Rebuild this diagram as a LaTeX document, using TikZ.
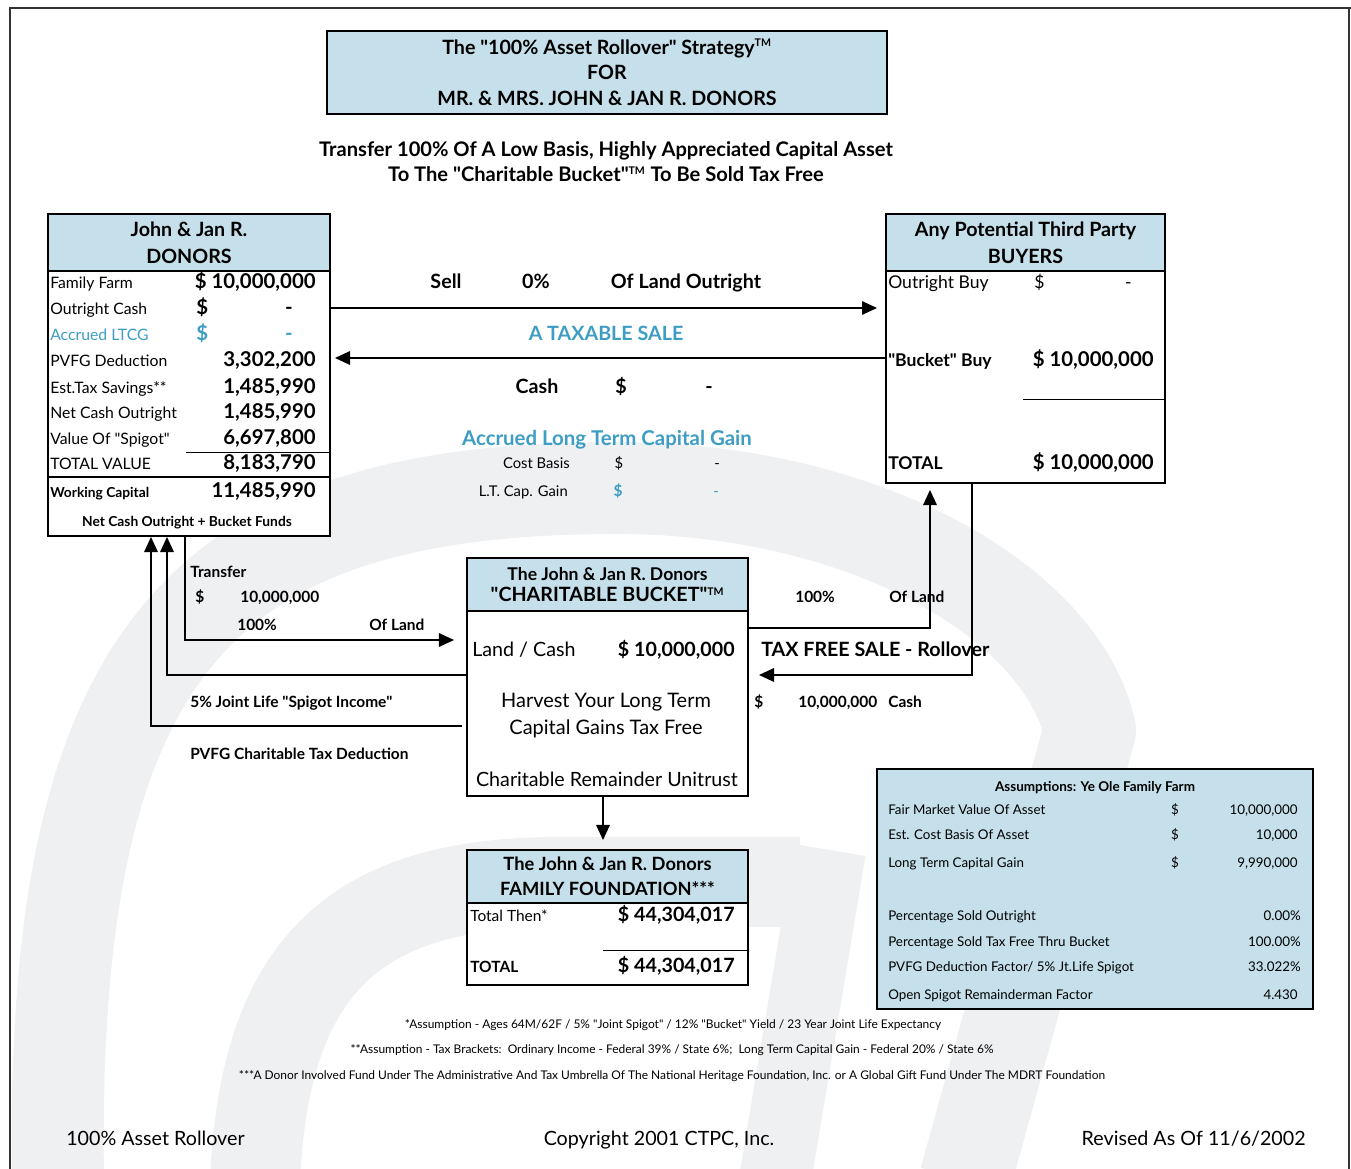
\documentclass[tikz,border=0pt]{standalone}
\usepackage{fontspec}
\setmainfont{Lato}
\usetikzlibrary{positioning, arrows.meta, calc}
\newlength{\pxu}
\setlength{\pxu}{0.025cm}
\newcommand{\fsz}[1]{\fontsize{#1}{#1}\selectfont}
\newcommand{\qt}{\XeTeXglyph\XeTeXcharglyph"22\relax}
\definecolor{headblue}{HTML}{C5E0EB}
\definecolor{taxblue}{HTML}{3D9DC3}
\definecolor{wmgray}{HTML}{EFF0F2}
\tikzstyle{arrow} = [line width=1.3\pxu, -{Triangle[length=3.75mm,width=3.4mm]}]
\tikzstyle{link} = [line width=1\pxu]
\tikzstyle{box} = [rectangle, draw=black, line width=2\pxu, fill=white, inner sep=0pt, anchor=north west]
\tikzstyle{head} = [rectangle, draw=black, line width=2\pxu, fill=headblue, inner sep=0pt, anchor=north west, align=center]
\tikzstyle{lbl} = [inner sep=0pt, anchor=base west]
\tikzstyle{val} = [inner sep=0pt, anchor=base east]
\tikzstyle{mid} = [inner sep=0pt, anchor=base]

\begin{document}
\begin{tikzpicture}[x=1\pxu, y=-1\pxu]
        \useasboundingbox (0,0) rectangle (1351,1169);

        % watermark
        \draw[wmgray, line width=92\pxu, line join=round] (58,1180) .. controls (50,650) and (200,490) .. (610,488)
            .. controls (860,486) and (1060,600) .. (1090,730) -- (965,1180);
        \draw[wmgray, line width=90\pxu] (255,1180) .. controls (265,960) and (360,882) .. (560,882) -- (800,882);
        \draw[wmgray, line width=72\pxu] (830,850) -- (775,1180);

        % frame
        \draw[line width=2.5\pxu, black!80] (10,1169) -- (10,8) -- (1351,8);
        \draw[line width=1.5\pxu, black!80] (1349,8) -- (1349,1169);

        % title
        \node (title) [head, minimum width=560\pxu, minimum height=83\pxu, font=\bfseries\fontsize{14}{18.4}\selectfont] at (326,30)
            {The \qt100\% Asset Rollover\qt{} Strategy\textsuperscript{\fsz{7.5}TM}\\FOR\\MR. \& MRS. JOHN \& JAN R. DONORS};
        \node (sub1) [mid, font=\bfseries\fsz{14.3}] at (606,157) {Transfer 100\% Of A Low Basis, Highly Appreciated Capital Asset};
        \node (sub2) [mid, font=\bfseries\fsz{14.3}, below=25\pxu of sub1.base, anchor=base] {To The \qt Charitable Bucket\qt\textsuperscript{\fsz{7.5}TM} To Be Sold Tax Free};

        % donors
        \node (donors) [box, minimum width=282\pxu, minimum height=322\pxu] at (47,213) {};
        \node (donorshead) [head, minimum width=282\pxu, minimum height=57\pxu, font=\bfseries\fontsize{14}{19}\selectfont] at (donors.north west) {John \& Jan R.\\DONORS};
        \begin{scope}[font=\fsz{11.2}]
        \node (d1) [lbl] at (50,289) {Family Farm};
        \node (d2) [lbl] at (50,315) {Outright Cash};
        \node (d3) [lbl, taxblue] at (50,341) {Accrued LTCG};
        \node (d4) [lbl] at (50,367) {PVFG Deduction};
        \node (d5) [lbl] at (50,393) {Est.Tax Savings**};
        \node (d6) [lbl] at (50,418) {Net Cash Outright};
        \node (d7) [lbl] at (50,444) {Value Of \qt Spigot\qt};
        \node (d8) [lbl] at (50,469) {TOTAL VALUE};
        \end{scope}
        \begin{scope}[font=\bfseries\fsz{14.5}]
        \node (v1) [val] at (316,289) {\$ 10,000,000};
        \node (v2a) [lbl] at (196,315) {\$};
        \node (v2) [val] at (293,315) {-};
        \node (v3a) [lbl, taxblue] at (196,341) {\$};
        \node (v3) [val, taxblue] at (293,341) {-};
        \node (v4) [val] at (316,367) {3,302,200};
        \node (v5) [val] at (316,393) {1,485,990};
        \node (v6) [val] at (316,418) {1,485,990};
        \node (v7) [val] at (316,444) {6,697,800};
        \node (v8) [val] at (316,469) {8,183,790};
        \node (v9) [val] at (316,497) {11,485,990};
        \end{scope}
        \draw[link] (186,452) -- (donors.east |- 0,452);
        \draw[line width=2\pxu] (donors.west |- 0,477) -- (donors.east |- 0,477);
        \node (wcap) [lbl, font=\bfseries\fsz{9.8}] at (50,497) {Working Capital};
        \node (wsum) [mid, font=\bfseries\fsz{9.8}] at (187,526) {Net Cash Outright + Bucket Funds};

        % buyers
        \node (buyers) [box, minimum width=279\pxu, minimum height=269\pxu] at (885,213) {};
        \node (buyershead) [head, minimum width=279\pxu, minimum height=57\pxu, font=\bfseries\fontsize{14}{19}\selectfont] at (buyers.north west) {Any Potential Third Party\\BUYERS};
        \node (b1) [lbl, font=\fsz{12.5}] at (888,289) {Outright Buy};
        \node (b1a) [lbl, font=\fsz{12.5}] at (1034,289) {\$};
        \node (b1b) [val, font=\fsz{12.5}] at (1132,289) {-};
        \node (b2) [lbl, font=\bfseries\fsz{12.5}] at (888,367) {\qt Bucket\qt{} Buy};
        \node (b2v) [val, font=\bfseries\fsz{14.5}] at (1154,367) {\$ 10,000,000};
        \draw[link] (1023,399) -- (buyers.east |- 0,399);
        \node (b3) [lbl, font=\bfseries\fsz{12.5}] at (888,469) {TOTAL};
        \node (b3v) [val, font=\bfseries\fsz{14.5}] at (1154,469) {\$ 10,000,000};

        % outright sale
        \coordinate (sellrow) at (0,308);
        \coordinate (cashrow) at (0,358);
        \draw [arrow] (donors.east |- sellrow) -- ($(buyers.west |- sellrow)+(-8,0)$);
        \draw [arrow] (buyers.west |- cashrow) -- ($(donors.east |- cashrow)+(4,0)$);
        \begin{scope}[font=\bfseries\fsz{14}]
        \node (sell) [mid] at (446,288) {Sell};
        \node (sellpct) [mid] at (536,288) {0\%};
        \node (sellof) [mid] at (686,288) {Of Land Outright};
        \node (taxable) [mid, taxblue] at (606,341) {A TAXABLE SALE};
        \node (cash) [mid] at (537,393) {Cash};
        \node (cashd) [mid] at (621,393) {\$};
        \node (cashv) [mid] at (709,393) {-};
        \end{scope}
        \node (ltcg) [mid, taxblue, font=\bfseries\fsz{14.5}] at (607,445) {Accrued Long Term Capital Gain};
        \begin{scope}[font=\fsz{10.5}]
        \node (cb) [val] at (570,468) {Cost Basis};
        \node (cbd) [mid] at (619,468) {\$};
        \node (cbv) [mid] at (717,468) {-};
        \node (lt) [val] at (568,496) {L.T. Cap. Gain};
        \node (ltd) [mid, taxblue, font=\bfseries\fsz{11}] at (618,496) {\$};
        \node (ltv) [mid, taxblue] at (716,496) {-};
        \end{scope}

        % charitable bucket
        \node (bucket) [box, minimum width=281\pxu, minimum height=238\pxu] at (466,557) {};
        \node (buckethead) [head, minimum width=281\pxu, minimum height=53\pxu, font=\bfseries\fontsize{12.5}{15}\selectfont] at (bucket.north west) {The John \& Jan R. Donors\\{\fsz{14}\qt CHARITABLE BUCKET\qt}\textsuperscript{\fsz{7.5}TM}};
        \node (landcash) [lbl, font=\fsz{14}] at (472,656) {Land / Cash};
        \node (landcashv) [val, font=\bfseries\fsz{14}] at (735,656) {\$ 10,000,000};
        \node (harvest) [mid, font=\fontsize{14.2}{19}\selectfont, align=center, anchor=north] at (606,693) {Harvest Your Long Term\\Capital Gains Tax Free};
        \node (crut) [mid, font=\fsz{14}] at (607,786) {Charitable Remainder Unitrust};

        % foundation
        \node (found) [box, minimum width=281\pxu, minimum height=135\pxu] at (466,849) {};
        \node (foundhead) [head, minimum width=281\pxu, minimum height=53\pxu, font=\bfseries\fontsize{13}{17.5}\selectfont] at (found.north west) {The John \& Jan R. Donors\\FAMILY FOUNDATION***};
        \node (f1) [lbl, font=\fsz{11}] at (470,921) {Total Then*};
        \node (f1v) [val, font=\bfseries\fsz{14}] at (735,921) {\$ 44,304,017};
        \draw[link] (603,950) -- (found.east |- 0,950);
        \node (f2) [lbl, font=\bfseries\fsz{11}] at (470,972) {TOTAL};
        \node (f2v) [val, font=\bfseries\fsz{14}] at (735,972) {\$ 44,304,017};
        \coordinate (down) at (603,0);
        \draw [arrow] (bucket.south -| down) -- ($(found.north -| down)+(0,-9)$);

        % left connectors
        \coordinate (tr) at (185,640);
        \coordinate (sp) at (167,675);
        \coordinate (pv) at (151,726);
        \draw [arrow] (donors.south -| tr) |- ($(bucket.west |- tr)+(-12,0)$);
        \draw [arrow] (bucket.west |- sp) -| (donors.south -| sp);
        \draw [arrow] ($(bucket.west |- pv)+(-4,0)$) -| (donors.south -| pv);
        \begin{scope}[font=\bfseries\fsz{11}]
        \node (trl) [lbl] at (190,577) {Transfer};
        \node (trd) [lbl] at (195,602) {\$};
        \node (trv) [lbl] at (240,602) {10,000,000};
        \node (trp) [lbl] at (237,630) {100\%};
        \node (tro) [lbl] at (369,630) {Of Land};
        \node (spl) [lbl] at (190,707) {5\% Joint Life \qt Spigot Income\qt};
        \node (pvl) [lbl] at (190,759) {PVFG Charitable Tax Deduction};
        \end{scope}

        % right connectors
        \coordinate (up) at (930,628);
        \coordinate (dn) at (972,675);
        \draw [arrow] (bucket.east |- up) -| ($(buyers.south -| up)+(0,6)$);
        \draw [arrow] (buyers.south -| dn) |- ($(bucket.east |- dn)+(10,0)$);
        \begin{scope}[font=\bfseries\fsz{11}]
        \node (rp) [lbl] at (795,602) {100\%};
        \node (ro) [lbl] at (889,602) {Of Land};
        \node (rd) [lbl] at (754,707) {\$};
        \node (rv) [lbl] at (798,707) {10,000,000};
        \node (rc) [lbl] at (888,707) {Cash};
        \end{scope}
        \node (taxfree) [lbl, font=\bfseries\fsz{14}] at (761,656) {TAX FREE SALE - Rollover};

        % assumptions
        \node (assume) [box, fill=headblue, minimum width=436\pxu, minimum height=240\pxu] at (876,768) {};
        \node (at) [mid, font=\bfseries\fsz{9.6}] at (1095,791) {Assumptions: Ye Ole Family Farm};
        \begin{scope}[font=\fsz{9.5}]
        \node (a1) [lbl] at (888,814) {Fair Market Value Of Asset};
        \node (a2) [lbl] at (888,839) {Est. Cost Basis Of Asset};
        \node (a3) [lbl] at (888,867) {Long Term Capital Gain};
        \node (a4) [lbl] at (888,920) {Percentage Sold Outright};
        \node (a5) [lbl] at (888,946) {Percentage Sold Tax Free Thru Bucket};
        \node (a6) [lbl] at (888,971) {PVFG Deduction Factor/ 5\% Jt.Life Spigot};
        \node (a7) [lbl] at (888,999) {Open Spigot Remainderman Factor};
        \node (a1d) [mid] at (1175,814) {\$};
        \node (a2d) [mid] at (1175,839) {\$};
        \node (a3d) [mid] at (1175,867) {\$};
        \node (a1v) [val] at (1298,814) {10,000,000};
        \node (a2v) [val] at (1298,839) {10,000};
        \node (a3v) [val] at (1298,867) {9,990,000};
        \node (a4v) [val] at (1301,920) {0.00\%};
        \node (a5v) [val] at (1301,946) {100.00\%};
        \node (a6v) [val] at (1301,971) {33.022\%};
        \node (a7v) [val] at (1298,999) {4.430};
        \end{scope}

        % footnotes
        \begin{scope}[font=\fsz{8.5}]
        \node (n1) [mid] at (673,1028) {*Assumption - Ages 64M/62F / 5\% \qt Joint Spigot\qt{} / 12\% \qt Bucket\qt{} Yield / 23 Year Joint Life Expectancy};
        \node (n2) [mid] at (672,1053) {**Assumption - Tax Brackets:\ \ Ordinary Income - Federal 39\% / State 6\%;\ \ Long Term Capital Gain - Federal 20\% / State 6\%};
        \node (n3) [mid] at (672,1079) {***A Donor Involved Fund Under The Administrative And Tax Umbrella Of The National Heritage Foundation, Inc. or A Global Gift Fund Under The MDRT Foundation};
        \end{scope}

        % footer
        \begin{scope}[font=\fsz{14}]
        \node (ft1) [lbl] at (66,1145) {100\% Asset Rollover};
        \node (ft2) [mid] at (659,1145) {Copyright 2001 CTPC, Inc.};
        \node (ft3) [val] at (1306,1145) {Revised As Of 11/6/2002};
        \end{scope}
\end{tikzpicture}
\end{document}
